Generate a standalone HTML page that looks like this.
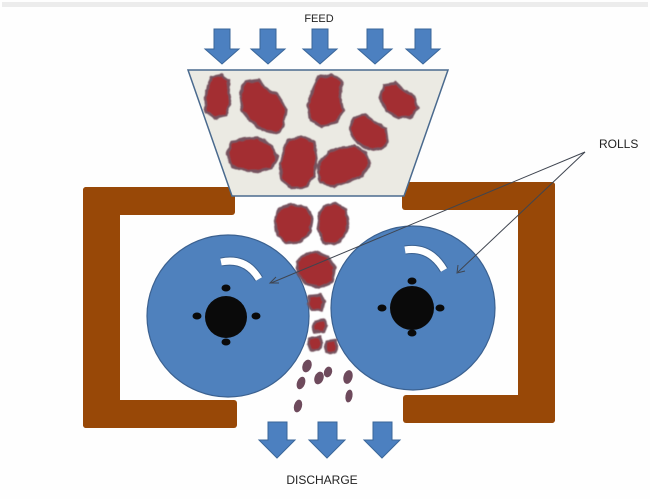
<!DOCTYPE html>
<html><head><meta charset="utf-8"><style>
html,body{margin:0;padding:0;background:#fff;}
svg{display:block;}
text{font-family:"Liberation Sans",sans-serif;fill:#222;}
</style></head><body>
<svg width="650" height="499" viewBox="0 0 650 499" xmlns="http://www.w3.org/2000/svg">
<defs>
<filter id="lumpy" x="-20%" y="-20%" width="140%" height="140%">
<feTurbulence type="fractalNoise" baseFrequency="0.12" numOctaves="2" seed="3" result="n"/>
<feDisplacementMap in="SourceGraphic" in2="n" scale="4" xChannelSelector="R" yChannelSelector="G" result="d"/>
<feGaussianBlur in="d" stdDeviation="0.5"/>
</filter>
</defs>
<rect x="0" y="0" width="650" height="499" fill="#fefefe"/>
<rect x="2" y="2" width="646" height="5" fill="#ececec"/>

<text x="319" y="22" font-size="11" text-anchor="middle">FEED</text>

<!-- feed arrows -->
<g fill="#4c80c0" stroke="#3a6699" stroke-width="1">
<path d="M214,29 H230 V49 H239 L222,64 L205,49 H214 Z"/>
<path d="M260,29 H276 V49 H285 L268,64 L251,49 H260 Z"/>
<path d="M312,29 H328 V49 H337 L320,64 L303,49 H312 Z"/>
<path d="M367,29 H383 V49 H392 L375,64 L358,49 H367 Z"/>
<path d="M415,29 H431 V49 H440 L423,64 L406,49 H415 Z"/>
</g>

<!-- brown frames -->
<g fill="#984807">
<rect x="83" y="187" width="37" height="241" rx="3"/>
<rect x="83" y="187" width="152" height="28" rx="3"/>
<rect x="83" y="400" width="154" height="28" rx="3"/>
<rect x="518" y="182" width="37" height="241" rx="3"/>
<rect x="402" y="182" width="153" height="28" rx="3"/>
<rect x="403" y="395" width="152" height="28" rx="3"/>
</g>

<!-- hopper -->
<polygon points="188,70 448,70 404,196 232,196" fill="#ebeae3" stroke="#4a6a8e" stroke-width="1.5"/>

<!-- rolls -->
<g fill="#4f81bd" stroke="#3b6190" stroke-width="1.2">
<circle cx="228" cy="316" r="81"/>
<circle cx="413" cy="308" r="82"/>
</g>
<g fill="none" stroke-linecap="butt">
<path d="M221,262 Q246,257 259,279" stroke="#3b6190" stroke-width="9"/>
<path d="M221,262 Q246,257 259,279" stroke="#fff" stroke-width="7"/>
<path d="M405,250 Q430,246 444,270" stroke="#3b6190" stroke-width="9"/>
<path d="M405,250 Q430,246 444,270" stroke="#fff" stroke-width="7"/>
</g>
<g fill="#0a0a0a">
<circle cx="226" cy="317" r="21"/>
<ellipse cx="226" cy="288" rx="4.5" ry="3.5"/>
<ellipse cx="197" cy="316" rx="4.5" ry="3.5"/>
<ellipse cx="256" cy="316" rx="4.5" ry="3.5"/>
<ellipse cx="226" cy="342" rx="4.5" ry="3.5"/>
<circle cx="412" cy="308" r="22"/>
<ellipse cx="412" cy="281" rx="4.5" ry="3.5"/>
<ellipse cx="382" cy="308" rx="4.5" ry="3.5"/>
<ellipse cx="440" cy="308" rx="4.5" ry="3.5"/>
<ellipse cx="412" cy="333" rx="4.5" ry="3.5"/>
</g>

<!-- rocks -->
<g fill="#a32f33" stroke="#76525e" stroke-width="2.5" stroke-linejoin="round" filter="url(#lumpy)">
<polygon points="212,77 222,75 229,80 228,92 230,104 226,115 214,118 206,112 205,98 208,86"/>
<polygon points="245,82 258,80 266,88 278,95 286,108 284,125 276,133 262,130 250,120 242,110 240,95"/>
<polygon points="318,77 332,75 342,82 340,96 343,110 336,122 322,127 310,120 308,105 312,90"/>
<polygon points="384,85 396,83 404,90 414,96 418,108 410,117 398,118 386,110 380,98"/>
<polygon points="355,117 366,115 375,122 386,128 388,142 380,150 366,148 354,140 350,128"/>
<polygon points="232,142 246,139 258,138 270,144 277,156 272,168 258,172 244,170 232,166 227,154"/>
<polygon points="288,140 302,137 314,142 317,158 314,176 306,187 292,188 282,180 280,164 284,150"/>
<polygon points="328,152 342,147 354,146 366,152 370,164 362,176 348,182 334,187 320,182 318,166"/>
<polygon points="280,208 292,205 306,207 312,218 310,232 300,242 286,243 277,235 275,220"/>
<polygon points="324,206 336,203 346,210 348,224 344,238 334,245 322,242 318,228 320,214"/>
<polygon points="302,256 316,252 328,257 335,268 332,282 320,287 306,284 298,274 297,262"/>
<polygon points="310,296 320,295 325,302 322,310 312,310 308,303"/>
<polygon points="315,321 324,320 327,326 324,332 315,332 313,327"/>
<polygon points="310,338 319,337 322,343 319,350 310,350 308,344"/>
<polygon points="327,341 336,340 338,346 335,353 327,353 325,347"/>
</g>
<g fill="#6e4a5c">
<ellipse cx="307" cy="366" rx="4.5" ry="6.5" transform="rotate(20 307 366)"/>
<ellipse cx="301" cy="383" rx="4" ry="6.5" transform="rotate(20 301 383)"/>
<ellipse cx="298" cy="406" rx="4" ry="6.5" transform="rotate(15 298 406)"/>
<ellipse cx="319" cy="378" rx="4.5" ry="6.5" transform="rotate(20 319 378)"/>
<ellipse cx="328" cy="372" rx="4" ry="5.5" transform="rotate(20 328 372)"/>
<ellipse cx="348" cy="377" rx="4.5" ry="7" transform="rotate(15 348 377)"/>
<ellipse cx="349" cy="396" rx="3.5" ry="6.5" transform="rotate(10 349 396)"/>
</g>

<!-- discharge arrows -->
<g fill="#4c80c0" stroke="#3a6699" stroke-width="1">
<path d="M268,422 H287 V440 H295 L277,458 L259,440 H268 Z"/>
<path d="M318,422 H337 V440 H345 L327,458 L309,440 H318 Z"/>
<path d="M373,422 H392 V440 H400 L382,458 L364,440 H373 Z"/>
</g>

<!-- leader lines -->
<g stroke="#3f4550" stroke-width="1" fill="none">
<line x1="585" y1="152" x2="271" y2="283"/>
<line x1="585" y1="152" x2="458" y2="272"/>
<polyline points="276,277 270,283 279,283"/>
<polyline points="458,265 457,273 465,271"/>
</g>

<text x="599" y="148" font-size="12">ROLLS</text>
<text x="322" y="484" font-size="12" text-anchor="middle">DISCHARGE</text>
</svg>
</body></html>
